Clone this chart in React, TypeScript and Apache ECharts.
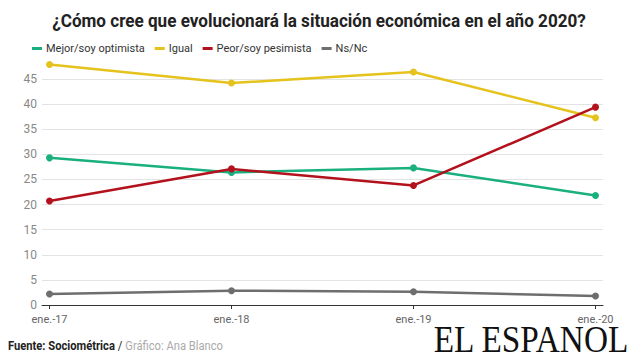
import React, { useEffect, useRef } from "react";
import * as echarts from "echarts";

const categories = ["ene.-17", "ene.-18", "ene.-19", "ene.-20"];
const mejor = [29.3, 26.4, 27.3, 21.8];
const igual = [47.9, 44.2, 46.4, 37.3];
const peor = [20.7, 27.1, 23.8, 39.4];
const nsnc = [2.2, 2.85, 2.65, 1.8];
const seriesNames = ["Mejor/soy optimista", "Igual", "Peor/soy pesimista", "Ns/Nc"];
const colors = ["#1aaf7f", "#e5c21c", "#b3121c", "#6e6e6e"];

const FONT = "Roboto, sans-serif";

export default function App() {
  const ref = useRef<HTMLDivElement>(null);
  useEffect(() => {
    if (!ref.current) return;
    const chart = echarts.init(ref.current, null, { renderer: "svg" });
    const values = [mejor, igual, peor, nsnc];
    chart.setOption({
      animation: false,
      backgroundColor: "#ffffff",
      legend: {
        left: 27,
        top: 38,
        icon: "rect",
        itemWidth: 10,
        itemHeight: 3,
        itemGap: 10,
        data: seriesNames,
        textStyle: { fontFamily: FONT, fontSize: 11, color: "#333", padding: [0, 0, 0, -1] },
      },
      grid: [
        { left: 42, right: 37, top: 79, bottom: 55 },
        { left: 49.5, right: 44.5, top: 53.9, bottom: 55 },
      ],
      xAxis: [
        {
          gridIndex: 0,
          type: "value",
          min: 0,
          max: 1,
          axisLine: { show: true, lineStyle: { color: "#333", width: 1 } },
          axisTick: { show: false },
          axisLabel: { show: false },
          splitLine: { show: false },
        },
        {
          gridIndex: 1,
          type: "category",
          boundaryGap: false,
          data: categories,
          axisLine: { show: false },
          axisTick: { show: true, length: 4, lineStyle: { color: "#333" } },
          axisLabel: { color: "#666", fontSize: 11, fontFamily: FONT, margin: 9 },
          splitLine: { show: false },
        },
      ],
      yAxis: [
        {
          gridIndex: 0,
          type: "value",
          min: 0,
          max: 45,
          interval: 5,
          axisLine: { show: false },
          axisTick: { show: false },
          axisLabel: { color: "#888", fontSize: 12, fontFamily: FONT, margin: 5 },
          splitLine: { show: true, lineStyle: { color: "#e3e3e3", width: 1 } },
        },
        {
          gridIndex: 1,
          type: "value",
          min: 0,
          max: 50,
          show: false,
        },
      ],
      series: seriesNames.map((name, i) => ({
        name,
        type: "line",
        xAxisIndex: 1,
        yAxisIndex: 1,
        data: values[i],
        symbol: "circle",
        symbolSize: 7,
        color: colors[i],
        lineStyle: { width: 2.5, color: colors[i] },
        itemStyle: { color: colors[i] },
      })),
      graphic: [
        {
          type: "text",
          x: 319,
          y: 20,
          scaleX: 0.9,
          style: {
            text: "¿Cómo cree que evolucionará la situación económica en el año 2020?",
            font: "bold 19px " + FONT,
            fill: "#222",
            textAlign: "center",
            textVerticalAlign: "middle",
          },
        },
        {
          type: "text",
          x: 8,
          y: 346,
          scaleX: 0.86,
          style: {
            text: "{b|Fuente: Sociométrica} {n|/} {l|Gráfico: Ana Blanco}",
            textVerticalAlign: "middle",
            rich: {
              b: { fontFamily: FONT, fontWeight: "bold", fontSize: 13, fill: "#222" },
              n: { fontFamily: FONT, fontSize: 13, fill: "#222" },
              l: { fontFamily: FONT, fontSize: 13, fill: "#aaa" },
            },
          },
        },
        {
          type: "text",
          x: 531,
          y: 340,
          scaleX: 0.9,
          style: {
            text: "EL ESPANOL",
            font: "37px 'Liberation Serif', 'DejaVu Serif', serif",
            fill: "#111",
            textAlign: "center",
            textVerticalAlign: "middle",
          },
        },
      ],
    });
    return () => chart.dispose();
  }, []);
  return <div ref={ref} style={{ width: 640, height: 360, position: "fixed", left: 0, top: 0 }} />;
}
